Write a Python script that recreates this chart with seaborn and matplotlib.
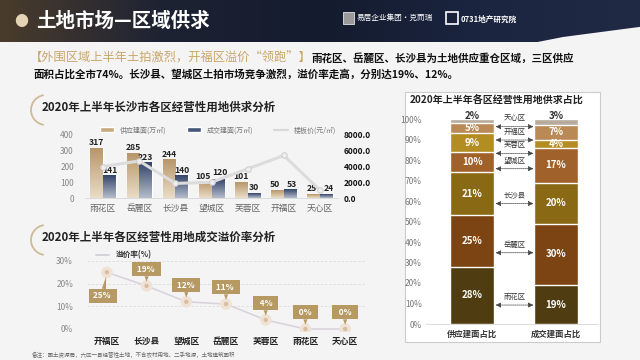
import numpy as np
import pandas as pd
import matplotlib
matplotlib.use('Agg')
import matplotlib.pyplot as plt
import seaborn as sns
from matplotlib.patches import Rectangle, Arc, Patch, Polygon
from matplotlib.lines import Line2D
from matplotlib.colors import LinearSegmentedColormap

sns.set_theme(style='white')
plt.rcParams['font.family'] = ['Noto Sans CJK SC', 'DejaVu Sans']
plt.rcParams['axes.unicode_minus'] = False

# ── data ────────────────────────────────────────────────────────────────────
DISTRICTS = ['雨花区', '岳麓区', '长沙县', '望城区', '芙蓉区', '开福区', '天心区']
SUPPLY = [317, 285, 244, 105, 101, 50, 25]        # 供应建面(万㎡)
DEAL = [141, 223, 140, 120, 30, 53, 24]           # 成交建面(万㎡)
PRICE = [4000, 4700, 1850, 2000, 3700, 5400, 1000]  # 楼板价(元/㎡)

PREMIUM_CATS = ['开福区', '长沙县', '望城区', '岳麓区', '芙蓉区', '雨花区', '天心区']
PREMIUM = [25, 19, 12, 11, 4, 0, 0]               # 溢价率(%)

SHARE_COLS = ['供应建面占比', '成交建面占比']
SUPPLY_SHARE = [28, 25, 21, 10, 9, 5, 2]
DEAL_SHARE = [19, 30, 20, 17, 4, 7, 3]

SHARE_COLORS = ['#4f3c10', '#7c4412', '#8a6914', '#a0622a', '#b38d22', '#b98a55', '#b6ab9c']
TAN, NAVY = '#c8aa7c', '#45557a'

W, H = 640, 360
def fx(px): return px / W
def fy(py): return 1 - py / H

fig = plt.figure(figsize=(6.4, 3.6), dpi=100)
fig.patch.set_facecolor('#f4f4f4')

# ── header band ─────────────────────────────────────────────────────────────
hdr = fig.add_axes([0, fy(42), 1, 42 / H])
cm_hdr = LinearSegmentedColormap.from_list('hdr', ['#4a3c2c', '#1e2333', '#141b2e', '#1b2540', '#202a44'])
hdr.imshow(np.linspace(0, 1, 256)[None, :], aspect='auto', cmap=cm_hdr, extent=[0, 1, 0, 1])
hdr.add_patch(Polygon([[0.84, 0], [0.88, 0.12], [0.93, 0.22], [0.97, 0.3], [1, 0.36], [1, 0]],
                      closed=True, fc='#f4f4f4', ec='none'))
hdr.set_xlim(0, 1); hdr.set_ylim(0, 1); hdr.set_axis_off()
fig.text(fx(21), fy(22), '●', color='#e4d4b4', fontsize=10, ha='center', va='center')
fig.text(fx(36), fy(21), '土地市场—区域供求', color='white', fontsize=14, weight='bold', va='center')
fig.add_artist(Rectangle((fx(343), fy(24)), 11 / W, 12 / H, transform=fig.transFigure, fc='#9a9a9a', ec='white', lw=0.5))
fig.text(fx(357), fy(18), '易居企业集团·克而瑞', color='white', fontsize=5.5, va='center')
fig.add_artist(Rectangle((fx(446), fy(24)), 12 / W, 12 / H, transform=fig.transFigure, fc='none', ec='white', lw=1.2))
fig.text(fx(461), fy(19), '0731地产研究院', color='white', fontsize=5.5, weight='bold', va='center')

# ── intro paragraph ─────────────────────────────────────────────────────────
t1 = fig.text(fx(30), fy(58), '【外围区域上半年土拍激烈，开福区溢价“领跑”】', color='#c9a66b', fontsize=8.8, va='center')
fig.canvas.draw()
bb = t1.get_window_extent()
fig.text(bb.x1 / W, fy(58), '雨花区、岳麓区、长沙县为土地供应重仓区域，三区供应',
         color='#111', fontsize=7.6, weight='bold', va='center')
fig.text(fx(33), fy(74), '面积占比全市74%。长沙县、望城区土拍市场竞争激烈，溢价率走高，分别达19%、12%。',
         color='#111', fontsize=7.6, weight='bold', va='center')

def section_title(py, txt):
    fig.add_artist(Arc((fx(46), fy(py + 3)), 30 / W, 30 / H, theta1=95, theta2=265,
                       transform=fig.transFigure, color='#cdbb98', lw=1.3))
    fig.text(fx(42), fy(py), txt, color='#222', fontsize=8.3, weight='bold', va='center')

# ── 1. supply / deal bars + land price line ────────────────────────────────
section_title(107, '2020年上半年长沙市各区经营性用地供求分析')
ax1 = fig.add_axes([fx(85), fy(198), 253 / W, 63 / H])
ax1.set_facecolor('none')
df1 = pd.DataFrame({'区域': DISTRICTS * 2,
                    '类型': ['供应建面(万㎡)'] * 7 + ['成交建面(万㎡)'] * 7,
                    '面积': SUPPLY + DEAL})
sns.barplot(data=df1, x='区域', y='面积', hue='类型', palette=[TAN, NAVY], width=0.7,
            saturation=1, legend=False, ax=ax1)
grads = [LinearSegmentedColormap.from_list('g0', ['#eadcc6', '#b8966a']),
         LinearSegmentedColormap.from_list('g1', ['#b4bccb', '#34456a'])]
for i, cont in enumerate(ax1.containers):
    for c, bar in enumerate(cont):
        x0, w, h = bar.get_x(), bar.get_width(), bar.get_height()
        ax1.imshow(np.linspace(1, 0, 64)[:, None], cmap=grads[i], aspect='auto',
                   extent=[x0, x0 + w, 0, h], zorder=bar.get_zorder() + 0.1)
        close = abs(SUPPLY[c] - DEAL[c]) < 30
        dx = (-0.06 if i == 0 else 0.06) if close else 0
        lift = 16 if (close and i == 1 and h > 100) else 6
        ax1.text(x0 + w / 2 + dx, h + lift, f'{int(h)}', ha='center', va='bottom', fontsize=6.2,
                 weight='bold', color='#222', clip_on=False, zorder=6)
ax1.set_xlim(-0.5, 6.5); ax1.set_ylim(0, 400)
ax1.set_yticks(range(0, 401, 100))
ax1.tick_params(axis='y', labelsize=6, labelcolor='#888', length=0, pad=8)
ax1.tick_params(axis='x', labelsize=6.3, labelcolor='#666', length=0, pad=4)
ax1.set_xlabel(''); ax1.set_ylabel('')
for s in ['left', 'right', 'top']:
    ax1.spines[s].set_visible(False)
ax1.spines['bottom'].set_color('#d8d8d8'); ax1.spines['bottom'].set_linewidth(0.6)

ax1b = ax1.twinx()
ax1b.set_facecolor('none')
sns.lineplot(x=np.arange(len(PRICE)), y=PRICE, ax=ax1b, color='#dcdcdc', lw=2.2,
             marker='o', markersize=4, markerfacecolor='#eeeeee', markeredgecolor='#cfcfcf')
ax1b.set_ylim(0, 8000)
ax1b.set_yticks(range(0, 8001, 2000))
ax1b.set_yticklabels([f'{v:.1f}' for v in range(0, 8001, 2000)])
ax1b.tick_params(axis='y', labelsize=6, labelcolor='#111', length=0, pad=4)
for lab in ax1b.get_yticklabels():
    lab.set_fontweight('bold')
ax1b.set_ylabel('')
for s in ax1b.spines.values():
    s.set_visible(False)
handles = [Patch(fc=TAN), Patch(fc=NAVY), Line2D([], [], color='#d8d8d8', lw=1.5)]
leg = ax1.legend(handles, ['供应建面(万㎡)', '成交建面(万㎡)', '楼板价(元/㎡)'], loc='lower left',
                 bbox_to_anchor=(0.05, 0.97), ncol=3, frameon=False, fontsize=5,
                 handlelength=2.0, handleheight=0.7, columnspacing=3.0, borderaxespad=0)
for t in leg.get_texts():
    t.set_color('#777')

# ── 2. premium rate line with callouts ─────────────────────────────────────
section_title(237, '2020年上半年各区经营性用地成交溢价率分析')
ax2 = fig.add_axes([fx(87), 1 - 332.4 / H, 278 / W, 73.7 / H])
ax2.set_facecolor('none')
pos = np.arange(len(PREMIUM))
sns.lineplot(x=pos, y=PREMIUM, ax=ax2, color='#d9d4dc', lw=1.2, zorder=2)
sns.scatterplot(x=pos, y=PREMIUM, ax=ax2, s=70, color='#f0e2d4', edgecolor='none', zorder=3)
sns.scatterplot(x=pos, y=PREMIUM, ax=ax2, s=10, color='#d8bfa4', edgecolor='none', zorder=4)
ax2.set_xlim(-0.5, 6.5); ax2.set_ylim(-1.5, 31)
ax2.set_xticks(pos); ax2.set_xticklabels(PREMIUM_CATS)
ax2.set_yticks([0, 10, 20, 30]); ax2.set_yticklabels(['0%', '10%', '20%', '30%'])
ax2.tick_params(axis='y', labelsize=6, labelcolor='#888', length=0, pad=10)
ax2.tick_params(axis='x', labelsize=6.3, labelcolor='#222', length=0, pad=3)
for lab in ax2.get_xticklabels():
    lab.set_fontweight('bold')
for y in [10, 20, 30]:
    ax2.axhline(y, color='#dddddd', lw=0.6, ls=(0, (3, 2)), zorder=1)
for s in ax2.spines.values():
    s.set_visible(False)
for i, v in enumerate(PREMIUM):
    off = (-3, -17) if i == 0 else (0, 12)
    ax2.annotate(f'{v}%'.center(6), xy=(i, v), xytext=off, textcoords='offset points',
                 ha='center', va='center', color='white', fontsize=6, weight='bold', zorder=5,
                 bbox=dict(boxstyle='square,pad=0.3', fc='#b79a63', ec='none'),
                 arrowprops=dict(arrowstyle='wedge,tail_width=0.5,shrink_factor=0.5',
                                 fc='#b79a63', ec='none', shrinkA=0, shrinkB=3))
leg2 = ax2.legend([Line2D([], [], color='#d0ccd4', lw=1.2)], ['溢价率(%)'], loc='lower left',
                  bbox_to_anchor=(0.02, 0.95), frameon=False, fontsize=5.5, handlelength=1.8,
                  borderaxespad=0)
for t in leg2.get_texts():
    t.set_fontweight('bold'); t.set_color('#333')

fig.text(fx(32), fy(355), '备注：国土资源局，六区一县经营性土地，不含农村用地、二手地源，土地建筑面积',
         fontsize=4, color='#666', va='center')

# ── 3. stacked share bars ───────────────────────────────────────────────────
fig.add_artist(Rectangle((fx(405), fy(342)), 195 / W, 250 / H, transform=fig.transFigure,
                         fc='white', ec='#cccccc', lw=0.8, zorder=0.5))
fig.text(fx(497), fy(100), '2020年上半年各区经营性用地供求占比', ha='center', va='center',
         fontsize=7.2, weight='bold', color='#222', zorder=3)
ax3 = fig.add_axes([fx(426), fy(324), 172 / W, 205 / H])
ax3.set_zorder(2); ax3.set_facecolor('none')
shares = np.array([SUPPLY_SHARE, DEAL_SHARE])          # (2, 7)
cum = np.cumsum(shares, axis=1)
for k in range(len(DISTRICTS) - 1, -1, -1):
    sns.barplot(x=SHARE_COLS, y=cum[:, k], color=SHARE_COLORS[k], width=0.52, saturation=1, ax=ax3)
for j in range(2):
    for k in range(len(DISTRICTS)):
        v = shares[j, k]
        if v <= 3:
            ax3.text(j, cum[j, k] + 1.6, f'{v}%', ha='center', va='center', fontsize=7,
                     weight='bold', color='#333', clip_on=False)
        else:
            ax3.text(j, cum[j, k] - v / 2, f'{v}%', ha='center', va='center', fontsize=7,
                     weight='bold', color='white')
# district arrows between the two bars, at the mean segment centre
mids = ((cum - shares / 2).mean(axis=0))
arrow_y = []
prev = 100 + 5.5
for k in range(len(DISTRICTS) - 1, -1, -1):
    y = min(mids[k] - 2.5, prev - 6.5)
    arrow_y.append((k, y)); prev = y
for k, y in arrow_y:
    ax3.annotate('', xy=(0.28, y), xytext=(0.73, y),
                 arrowprops=dict(arrowstyle='<|-|>,head_length=0.25,head_width=0.12', color='#444',
                                 lw=0.5, ls=(0, (2, 1)), shrinkA=0, shrinkB=0))
    ax3.text(0.505, y + 4, DISTRICTS[k], ha='center', va='center', fontsize=5.3, color='#333',
             clip_on=False)
ax3.set_xlim(-0.55, 1.5); ax3.set_ylim(0, 100)
ax3.set_yticks(range(0, 101, 10)); ax3.set_yticklabels([f'{v}%' for v in range(0, 101, 10)])
ax3.tick_params(axis='y', labelsize=6, labelcolor='#777', length=0, pad=3)
ax3.tick_params(axis='x', labelsize=6, labelcolor='#333', length=0, pad=4)
for lab in ax3.get_xticklabels():
    lab.set_fontweight('bold')
ax3.set_xlabel(''); ax3.set_ylabel('')
for s in ['left', 'right', 'top']:
    ax3.spines[s].set_visible(False)
ax3.spines['bottom'].set_color('#d6d6d6'); ax3.spines['bottom'].set_linewidth(0.6)

fig.savefig('out.png', dpi=100, facecolor=fig.get_facecolor())
